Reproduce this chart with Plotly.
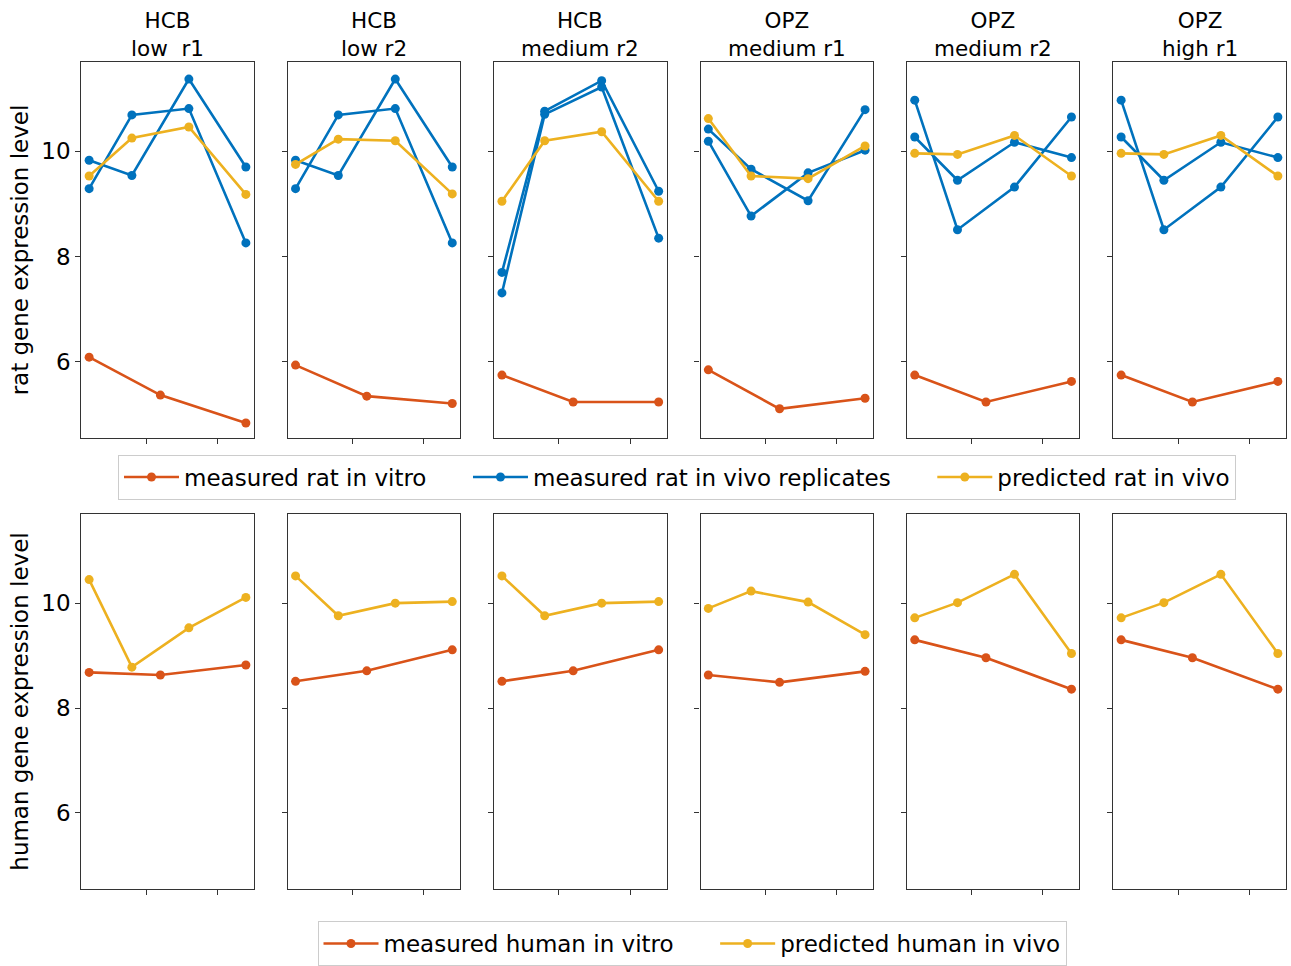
import plotly.graph_objects as go

# ---------------- data ----------------
conditions = ["HCB<br>low\u00a0 r1", "HCB<br>low r2", "HCB<br>medium r2",
              "OPZ<br>medium r1", "OPZ<br>medium r2", "OPZ<br>high r1"]
t_vitro = [2, 12, 24]
t_vivo = [2, 8, 16, 24]

rat_vitro = [[6.09, 5.37, 4.84], [5.94, 5.35, 5.21], [5.75, 5.24, 5.24],
             [5.85, 5.11, 5.31], [5.75, 5.24, 5.63], [5.75, 5.24, 5.63]]
rat_vivo_rep1 = [[9.83, 9.54, 11.37, 9.70], [9.83, 9.54, 11.37, 9.70],
                 [7.70, 10.76, 11.34, 9.24], [10.42, 9.66, 9.06, 10.79],
                 [10.97, 8.51, 9.32, 10.65], [10.97, 8.51, 9.32, 10.65]]
rat_vivo_rep2 = [[9.29, 10.69, 10.81, 8.26], [9.29, 10.69, 10.81, 8.26],
                 [7.31, 10.70, 11.22, 8.35], [10.19, 8.77, 9.59, 10.02],
                 [10.27, 9.45, 10.17, 9.88], [10.27, 9.45, 10.17, 9.88]]
rat_pred = [[9.53, 10.25, 10.46, 9.18], [9.75, 10.23, 10.20, 9.19],
            [9.05, 10.20, 10.37, 9.05], [10.62, 9.53, 9.48, 10.10],
            [9.96, 9.94, 10.30, 9.53], [9.96, 9.94, 10.30, 9.53]]
human_vitro = [[8.68, 8.63, 8.82], [8.51, 8.71, 9.11], [8.51, 8.71, 9.11],
               [8.63, 8.49, 8.70], [9.30, 8.96, 8.36], [9.30, 8.96, 8.36]]
human_pred = [[10.45, 8.78, 9.53, 10.11], [10.52, 9.76, 10.00, 10.03],
              [10.52, 9.76, 10.00, 10.03], [9.90, 10.23, 10.02, 9.40],
              [9.72, 10.01, 10.55, 9.04], [9.72, 10.01, 10.55, 9.04]]

x_ticks = [10, 20]
y_ticks = [6, 8, 10]

# ---------------- style ----------------
W, H = 1291, 966
ORANGE = "#D95319"
BLUE = "#0072BD"
YELLOW = "#EDB120"
FONT = "DejaVu Sans"
FS_TITLE = 21.5
FS = 23
PAD = "\u00a0" * 5

fig = go.Figure()

lefts = [81.3 + i * 206.4 for i in range(6)]
pw = 172.4
top_row = [1 - 438.3 / H, 1 - 61.7 / H]
bot_row = [1 - 889.0 / H, 1 - 514.0 / H]


def add_line(ax_idx, x, y, color, name, legend, show):
    xa = "x" if ax_idx == 1 else f"x{ax_idx}"
    ya = "y" if ax_idx == 1 else f"y{ax_idx}"
    fig.add_trace(go.Scatter(
        x=x, y=y, mode="lines+markers", name=name,
        line=dict(color=color, width=2.6),
        marker=dict(color=color, size=9),
        xaxis=xa, yaxis=ya, legend=legend, showlegend=show))


axis_common = dict(
    showgrid=False, zeroline=False, showline=True, mirror=True,
    linecolor="#333333", linewidth=1.2, ticks="outside", ticklen=5,
    tickwidth=1, tickcolor="#333333",
    tickfont=dict(family=FONT, size=FS, color="black"))

for row in range(2):
    for c in range(6):
        idx = row * 6 + c + 1
        first = (c == 0)
        if row == 0:
            add_line(idx, t_vitro, rat_vitro[c], ORANGE, "measured rat in vitro" + PAD, "legend", first)
            add_line(idx, t_vivo, rat_vivo_rep1[c], BLUE, "measured rat in vivo replicates" + PAD, "legend", first)
            add_line(idx, t_vivo, rat_vivo_rep2[c], BLUE, "measured rat in vivo replicates" + PAD, "legend", False)
            add_line(idx, t_vivo, rat_pred[c], YELLOW, "predicted rat in vivo", "legend", first)
        else:
            add_line(idx, t_vitro, human_vitro[c], ORANGE, "measured human in vitro" + PAD, "legend2", first)
            add_line(idx, t_vivo, human_pred[c], YELLOW, "predicted human in vivo", "legend2", first)

        xname = "xaxis" if idx == 1 else f"xaxis{idx}"
        yname = "yaxis" if idx == 1 else f"yaxis{idx}"
        anchor_y = "y" if idx == 1 else f"y{idx}"
        anchor_x = "x" if idx == 1 else f"x{idx}"
        xdom = [lefts[c] / W, (lefts[c] + pw) / W]
        ydom = top_row if row == 0 else bot_row
        fig.layout[xname] = dict(axis_common, domain=xdom, anchor=anchor_y,
                                 range=[0.9, 25.1], tickvals=x_ticks,
                                 showticklabels=False)
        ytitle = None
        if first:
            ytitle = dict(text="rat gene expression level" if row == 0 else "human gene expression level",
                          font=dict(family=FONT, size=FS, color="black"), standoff=6)
        fig.layout[yname] = dict(axis_common, domain=ydom, anchor=anchor_x,
                                 range=[4.55, 11.7], tickvals=y_ticks,
                                 showticklabels=first, title=ytitle)

# column titles
for c in range(6):
    fig.add_annotation(
        x=(lefts[c] + pw / 2) / W, y=1 - 6 / H, xref="paper", yref="paper",
        text=conditions[c], showarrow=False, xanchor="center", yanchor="top",
        font=dict(family=FONT, size=FS_TITLE, color="black"))

legend_style = dict(
    orientation="h", xanchor="center", bgcolor="white",
    bordercolor="#cccccc", borderwidth=1,
    font=dict(family=FONT, size=FS, color="black"),
    itemwidth=55)

fig.update_layout(
    width=W, height=H,
    margin=dict(l=0, r=0, t=0, b=0),
    paper_bgcolor="white", plot_bgcolor="white",
    font=dict(family=FONT, size=FS, color="black"),
    legend=dict(legend_style, x=677 / W, y=1 - 477 / H, yanchor="middle"),
    legend2=dict(legend_style, x=692 / W, y=0.0, yanchor="bottom"),
)

fig.write_html("out.html", config={"displayModeBar": False},
               post_script="document.body.style.margin='0';")
